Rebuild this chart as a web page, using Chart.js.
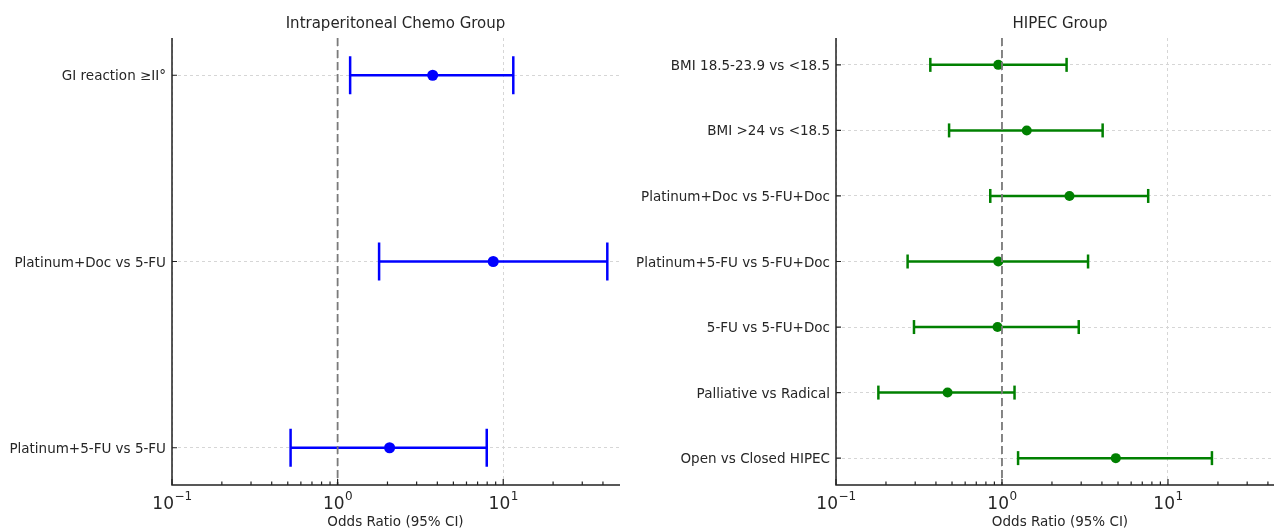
<!DOCTYPE html>
<html lang="en">
<head>
<meta charset="UTF-8">
<title>Odds Ratio forest plots</title>
<script src="https://cdn.jsdelivr.net/npm/chart.js"></script>
<style>
  html, body { margin: 0; padding: 0; background: #fff; overflow: hidden; }
  #wrap { position: relative; width: 1274px; height: 531px; overflow: hidden; }
  canvas { position: absolute; top: 0; }
</style>
</head>
<body>
<div id="wrap">
  <canvas id="graficoIP" width="630" height="531" style="left:0"></canvas>
  <canvas id="graficoHipec" width="664" height="531" style="left:630px"></canvas>
</div>

<script>
// dados
const ipLabels = ['GI reaction \u2265II\u00b0', 'Platinum+Doc vs 5-FU', 'Platinum+5-FU vs 5-FU'];
const ipOR   = [3.75, 8.7, 2.06];
const ipLow  = [1.19, 1.78, 0.52];
const ipHigh = [11.5, 42.5, 7.95];

const hipecLabels = ['BMI 18.5-23.9 vs <18.5', 'BMI >24 vs <18.5', 'Platinum+Doc vs 5-FU+Doc',
  'Platinum+5-FU vs 5-FU+Doc', '5-FU vs 5-FU+Doc', 'Palliative vs Radical', 'Open vs Closed HIPEC'];
const hipecOR   = [0.95, 1.41, 2.55, 0.95, 0.94, 0.47, 4.85];
const hipecLow  = [0.37, 0.48, 0.85, 0.27, 0.295, 0.18, 1.25];
const hipecHigh = [2.45, 4.04, 7.6, 3.3, 2.9, 1.19, 18.4];

const xMajor = [0.1, 1, 10];
const xExp = ['\u22121', '0', '1'];
const xMin = 0.1, xMax = 50;
const refValue = 1;

const FONTE = "'DejaVu Sans', sans-serif";
const TEXTO = '#262626';

function minorValues() {
    const out = [];
    for (let d = 0.1; d < xMax; d *= 10) {
        for (let k = 2; k <= 9; k++) {
            const v = +(d * k).toPrecision(3);
            if (v < xMax) out.push(v);
        }
    }
    return out;
}

// linha de referencia, eixos, ticks internos, titulo e rotulos do eixo x
const decoracao = {
    id: 'decoracao',
    afterDatasetsDraw(chart, args, opts) {
        const ctx = chart.ctx;
        const x = chart.scales.x, y = chart.scales.y;
        const area = chart.chartArea;
        ctx.save();

        // linha tracejada em OR = 1
        const xr = x.getPixelForValue(refValue);
        ctx.strokeStyle = '#7a7a7a';
        ctx.lineWidth = 1.8;
        ctx.setLineDash([8, 4]);
        ctx.beginPath();
        ctx.moveTo(xr, area.top);
        ctx.lineTo(xr, area.bottom);
        ctx.stroke();
        ctx.setLineDash([]);

        // eixos
        ctx.strokeStyle = '#222';
        ctx.lineWidth = 1.5;
        ctx.beginPath();
        ctx.moveTo(area.left, area.top);
        ctx.lineTo(area.left, area.bottom);
        ctx.lineTo(area.right + 1, area.bottom);
        ctx.stroke();

        // ticks para dentro
        ctx.lineWidth = 1.2;
        ctx.beginPath();
        for (const v of xMajor) {
            const px = x.getPixelForValue(v);
            ctx.moveTo(px, area.bottom);
            ctx.lineTo(px, area.bottom - 6);
        }
        for (const v of minorValues()) {
            const px = x.getPixelForValue(v);
            ctx.moveTo(px, area.bottom);
            ctx.lineTo(px, area.bottom - 3.5);
        }
        for (let i = 0; i < opts.n; i++) {
            const py = y.getPixelForValue(i);
            ctx.moveTo(area.left, py);
            ctx.lineTo(area.left + 5, py);
        }
        ctx.stroke();

        // rotulos 10^n
        ctx.fillStyle = TEXTO;
        ctx.textBaseline = 'alphabetic';
        xMajor.forEach((v, i) => {
            const px = x.getPixelForValue(v);
            ctx.font = '17px ' + FONTE;
            const wBase = ctx.measureText('10').width;
            ctx.font = '12px ' + FONTE;
            const wExp = ctx.measureText(xExp[i]).width;
            const x0 = px - (wBase + wExp) / 2;
            ctx.font = '17px ' + FONTE;
            ctx.textAlign = 'left';
            ctx.fillText('10', x0, area.bottom + 24);
            ctx.font = '12px ' + FONTE;
            ctx.fillText(xExp[i], x0 + wBase + 0.5, area.bottom + 15);
        });

        ctx.font = '13.5px ' + FONTE;
        ctx.textAlign = 'center';
        ctx.fillText('Odds Ratio (95% CI)', (area.left + area.right) / 2, area.bottom + 41);

        ctx.font = '15px ' + FONTE;
        ctx.fillText(opts.titulo, (area.left + area.right) / 2, 28);
        ctx.restore();
    }
};

function montarGrafico(canvasId, labels, or, low, high, cor, capa, raio, larguraEixoY, padDireita, titulo) {
    const n = labels.length;
    const margem = n === 3 ? 0.2 : 0.41;
    const datasets = [];
    for (let i = 0; i < n; i++) {
        datasets.push({
            data: [{ x: low[i], y: i }, { x: high[i], y: i }],
            showLine: true,
            borderColor: cor,
            borderWidth: 2.5,
            pointStyle: 'line',
            pointRotation: 90,
            pointRadius: capa,
            pointHoverRadius: capa,
            pointBorderWidth: 2.5,
            pointBorderColor: cor,
            pointBackgroundColor: cor,
        });
    }
    datasets.push({
        data: or.map((v, i) => ({ x: v, y: i })),
        showLine: false,
        pointRadius: raio,
        pointHoverRadius: raio,
        pointBackgroundColor: cor,
        pointBorderColor: cor,
        pointBorderWidth: 0,
    });

    return new Chart(document.getElementById(canvasId), {
        type: 'scatter',
        data: { datasets },
        options: {
            responsive: false,
            animation: false,
            events: [],
            layout: { autoPadding: false, padding: { top: 38, right: padDireita, bottom: 0, left: 0 } },
            plugins: {
                legend: { display: false },
                tooltip: { enabled: false },
                title: { display: false },
                decoracao: { n, titulo },
            },
            scales: {
                x: {
                    type: 'logarithmic',
                    min: xMin,
                    max: xMax,
                    afterBuildTicks: (s) => { s.ticks = xMajor.map(v => ({ value: v })); },
                    afterFit: (s) => { s.height = 46; },
                    ticks: { display: false },
                    grid: { color: '#d6d6d6', lineWidth: 1, drawTicks: false },
                    border: { display: false, dash: [3, 3] },
                },
                y: {
                    type: 'linear',
                    reverse: true,
                    min: -margem,
                    max: n - 1 + margem,
                    afterBuildTicks: (s) => { s.ticks = labels.map((_, i) => ({ value: i })); },
                    afterFit: (s) => { s.width = larguraEixoY; },
                    ticks: {
                        callback: (v) => labels[v],
                        color: TEXTO,
                        font: { family: FONTE, size: 13.5 },
                        padding: 6,
                        labelOffset: 1.5,
                    },
                    grid: { color: '#d6d6d6', lineWidth: 1, drawTicks: false },
                    border: { display: false, dash: [3, 3] },
                },
            },
        },
        plugins: [decoracao],
    });
}

montarGrafico('graficoIP', ipLabels, ipOR, ipLow, ipHigh, '#0000ff', 19, 5.5, 172, 11, 'Intraperitoneal Chemo Group');
montarGrafico('graficoHipec', hipecLabels, hipecOR, hipecLow, hipecHigh, '#008000', 7, 5, 206, 10, 'HIPEC Group');
</script>
</body>
</html>
